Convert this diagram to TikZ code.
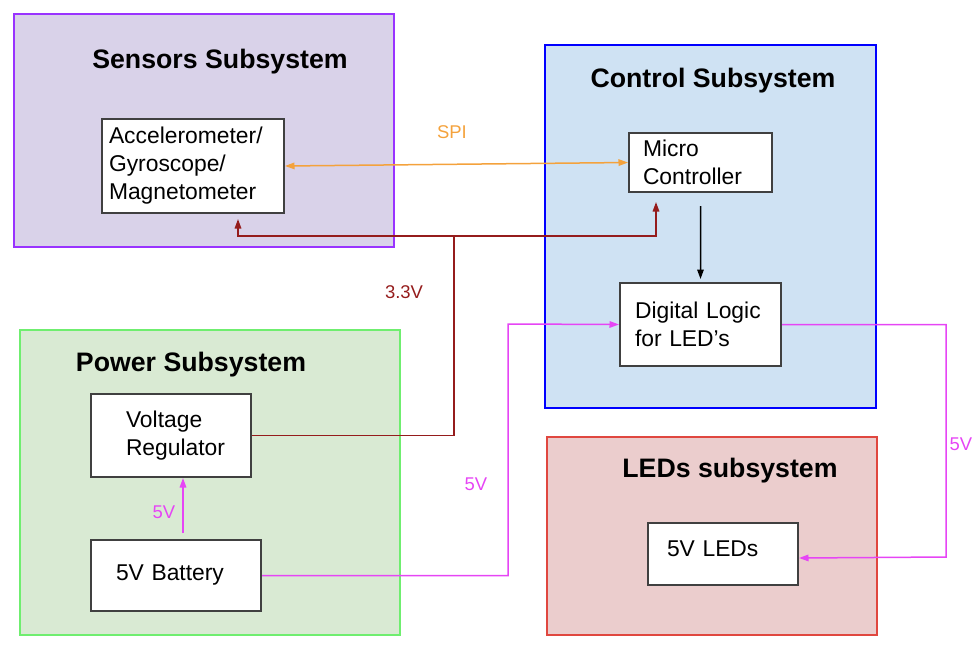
\documentclass[tikz,border=0pt]{standalone}
\usepackage{fontspec}
\setmainfont{Liberation Sans}
\usetikzlibrary{arrows.meta}

\definecolor{sensfill}{HTML}{D9D2E9}
\definecolor{sensline}{HTML}{9933FF}
\definecolor{ctrlfill}{HTML}{CFE2F3}
\definecolor{ctrlline}{HTML}{0000FF}
\definecolor{powfill}{HTML}{D9EAD3}
\definecolor{powline}{HTML}{6FEE6F}
\definecolor{ledfill}{HTML}{EBCDCD}
\definecolor{ledline}{HTML}{E0473F}
\definecolor{spiorange}{HTML}{F4A23C}
\definecolor{railred}{HTML}{951C1C}
\definecolor{railpink}{HTML}{E645F5}
\definecolor{boxgray}{HTML}{404040}

\begin{document}
\begin{tikzpicture}[x=0.2mm, y=-0.2mm,
    title/.style={font=\fontsize{15.2}{18}\selectfont\bfseries},
    block/.style={draw=boxgray, fill=white, line width=0.4mm, anchor=north west,
                  align=left, inner ysep=0pt,
                  font=\fontsize{13}{15.9}\selectfont},
    lbl/.style={font=\fontsize{10.5}{12}\selectfont},
    tip/.style={-{Triangle[length=1.9mm, width=1.3mm]}},
    wire/.style={line width=0.3mm}]
            \useasboundingbox (0,0) rectangle (978,644);
            \begin{scope}[shift={(14,14)}]
                \filldraw[draw=sensline, fill=sensfill, line width=0.4mm]
                    (0,0) rectangle (380,233);
                \node[title] (senstitle) at (206,48) {Sensors Subsystem};
                \node[block, minimum width=36.4mm, minimum height=18.8mm,
                      text width=33.6mm, inner xsep=1.4mm] (imu) at (87,104)
                      {Accelerometer/\\Gyroscope/\\Magnetometer};
            \end{scope}
            \begin{scope}[shift={(545,45)}]
                \filldraw[draw=ctrlline, fill=ctrlfill, line width=0.4mm]
                    (0,0) rectangle (331,363);
                \node[title] (ctrltitle) at (168,36) {Control Subsystem};
                \node[block, minimum width=28.6mm, minimum height=11.8mm,
                      text width=23mm, inner xsep=2.8mm] (micro) at (83,87)
                      {Micro\\Controller};
                \node[block, minimum width=32.2mm, minimum height=16.6mm,
                      text width=26.2mm, inner xsep=3mm] (logic) at (74,237)
                      {Digital Logic\\for LED’s};
            \end{scope}
            \begin{scope}[shift={(20,330)}]
                \filldraw[draw=powline, fill=powfill, line width=0.4mm]
                    (0,0) rectangle (380,305);
                \node[title] (powtitle) at (171,35) {Power Subsystem};
                \node[block, minimum width=32mm, minimum height=16.6mm,
                      text width=18mm, inner xsep=7mm] (vreg) at (70,63)
                      {Voltage\\Regulator};
                \node[block, minimum width=34mm, minimum height=14.2mm,
                      text width=24mm, inner xsep=5mm] (batt) at (70,209)
                      {5V Battery};
            \end{scope}
            \begin{scope}[shift={(547,437)}]
                \filldraw[draw=ledline, fill=ledfill, line width=0.4mm]
                    (0,0) rectangle (330,198);
                \node[title] (ledtitle) at (183,34) {LEDs subsystem};
                \node[block, minimum width=30mm, minimum height=12.4mm,
                      text width=22.4mm, inner xsep=3.8mm, text depth=2mm] (leds) at (100,85)
                      {5V LEDs};
            \end{scope}
            % turning points of the wires
            \coordinate (tap) at (454,236);
            \coordinate (jog) at (508,324);
            \coordinate (turn) at (946,557);
            % SPI link
            \draw[wire, spiorange, {Triangle[length=1.9mm, width=1.3mm]}-{Triangle[length=1.9mm, width=1.3mm]}]
                (imu.east) -- (micro.west);
            \node[lbl, spiorange] (spi) at (452,132) {SPI};
            % 3.3V rail
            \draw[wire, railred] (vreg.east) -| (tap);
            \draw[wire, railred, tip, shorten >=1mm] (tap) -| ([xshift=9mm]imu.south);
            \draw[wire, railred, tip, shorten >=1.8mm] (tap) -| ([xshift=-8.9mm]micro.south);
            \node[lbl, railred] (v33) at (404,292) {3.3V};
            % control to logic
            \draw[wire, black, tip, shorten <=2.6mm, shorten >=0.6mm] (micro.south) -- (logic.north);
            % 5V rails
            \draw[wire, railpink, tip, shorten <=1.2mm] ([xshift=1.4mm]batt.north) -- ([xshift=2.4mm]vreg.south);
            \node[lbl, railpink] (v5a) at (164,512) {5V};
            \draw[wire, railpink, tip] (batt.east) -| (jog) -- (logic.west);
            \node[lbl, railpink] (v5b) at (476,484) {5V};
            \draw[wire, railpink, tip] (logic.east) -| (turn) -- ([yshift=-0.8mm]leds.east);
            \node[lbl, railpink] (v5c) at (961,444) {5V};
        \end{tikzpicture}
\end{document}
